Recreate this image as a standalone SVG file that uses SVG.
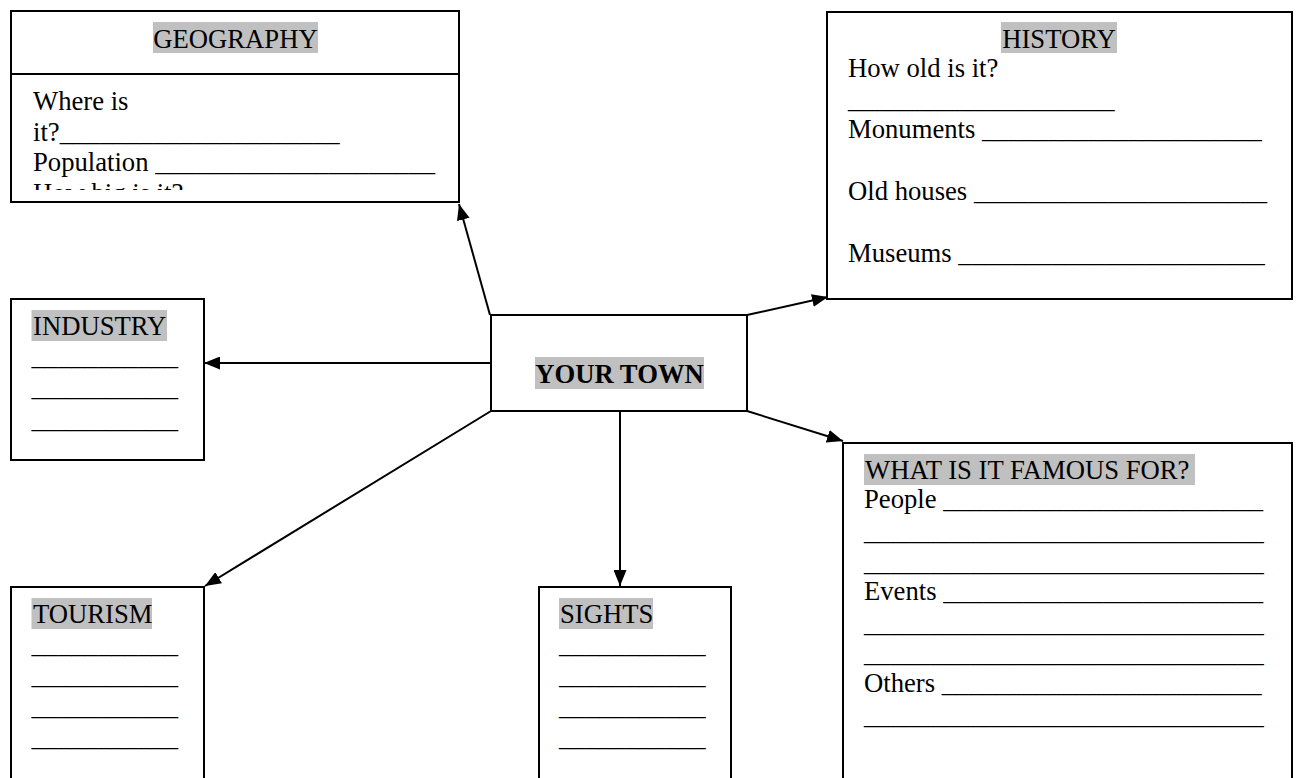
<svg xmlns="http://www.w3.org/2000/svg" width="1297" height="778" viewBox="0 0 1297 778">
<style>
.box{fill:#fff;stroke:#000;stroke-width:2}
.hl{fill:#c0c0c0}
text{font-family:"Liberation Serif","Times New Roman",serif;font-size:26.67px;fill:#000}
.b{font-weight:bold}
.conn line{stroke:#000;stroke-width:2}
</style>
<defs>
<marker id="ah" markerUnits="userSpaceOnUse" markerWidth="17" markerHeight="13" refX="16" refY="6.5" orient="auto">
<path d="M0,0 L16,6.5 L0,13 z" fill="#000"/>
</marker>
<clipPath id="geoclip"><rect x="11" y="75" width="448" height="115"/></clipPath>
</defs>
<g id="connectors" class="conn">
<line x1="490" y1="315" x2="459" y2="204" marker-end="url(#ah)"/>
<line x1="747" y1="315" x2="828" y2="297" marker-end="url(#ah)"/>
<line x1="491" y1="363" x2="204" y2="363" marker-end="url(#ah)"/>
<line x1="747" y1="411" x2="843" y2="441" marker-end="url(#ah)"/>
<line x1="491" y1="411" x2="205" y2="586" marker-end="url(#ah)"/>
<line x1="620" y1="411" x2="620" y2="586" marker-end="url(#ah)"/>
</g>
<g id="geography">
<rect class="box" x="11" y="11" width="448" height="191"/>
<line x1="11" y1="74" x2="459" y2="74" stroke="#000" stroke-width="2"/>
<rect class="hl" x="153" y="22" width="165" height="31"/>
<text x="235.5" y="48" text-anchor="middle">GEOGRAPHY</text>
<g clip-path="url(#geoclip)">
<text x="33" y="110">Where is</text>
<text x="33" y="140.5">it?_____________________</text>
<text x="33" y="171">Population _____________________</text>
<text x="33" y="202">How big is it?</text>
</g>
</g>
<g id="history">
<rect class="box" x="827" y="12" width="465" height="287"/>
<rect class="hl" x="1001" y="22" width="116" height="31"/>
<text x="1059" y="48" text-anchor="middle">HISTORY</text>
<text x="848" y="77">How old is it?</text>
<text x="848" y="108">____________________</text>
<text x="848" y="138">Monuments _____________________</text>
<text x="848" y="200">Old houses ______________________</text>
<text x="848" y="262">Museums _______________________</text>
</g>
<g id="industry">
<rect class="box" x="11" y="299" width="193" height="161"/>
<rect class="hl" x="31.5" y="310" width="135.5" height="31"/>
<text x="33" y="335">INDUSTRY</text>
<text x="31.5" y="365">___________</text>
<text x="31.5" y="396">___________</text>
<text x="31.5" y="428">___________</text>
</g>
<g id="your-town">
<rect class="box" x="491" y="315" width="256" height="96"/>
<rect class="hl" x="535" y="357" width="169" height="32"/>
<text class="b" x="619.5" y="383" text-anchor="middle">YOUR TOWN</text>
</g>
<g id="famous">
<rect class="box" x="843" y="443" width="449" height="345"/>
<rect class="hl" x="864" y="454" width="331" height="31"/>
<text x="865" y="479">WHAT IS IT FAMOUS FOR?</text>
<text x="864" y="508">People ________________________</text>
<text x="864" y="540">______________________________</text>
<text x="864" y="571">______________________________</text>
<text x="864" y="600">Events ________________________</text>
<text x="864" y="632">______________________________</text>
<text x="864" y="662">______________________________</text>
<text x="864" y="692">Others ________________________</text>
<text x="864" y="724">______________________________</text>
</g>
<g id="tourism">
<rect class="box" x="11" y="587" width="193" height="201"/>
<rect class="hl" x="31.5" y="598" width="120.5" height="31"/>
<text x="33" y="623">TOURISM</text>
<text x="31.5" y="653">___________</text>
<text x="31.5" y="684">___________</text>
<text x="31.5" y="715">___________</text>
<text x="31.5" y="746">___________</text>
</g>
<g id="sights">
<rect class="box" x="539" y="587" width="192" height="201"/>
<rect class="hl" x="559" y="598" width="94" height="31"/>
<text x="560" y="623">SIGHTS</text>
<text x="559" y="653">___________</text>
<text x="559" y="684">___________</text>
<text x="559" y="715">___________</text>
<text x="559" y="746">___________</text>
</g>
</svg>
